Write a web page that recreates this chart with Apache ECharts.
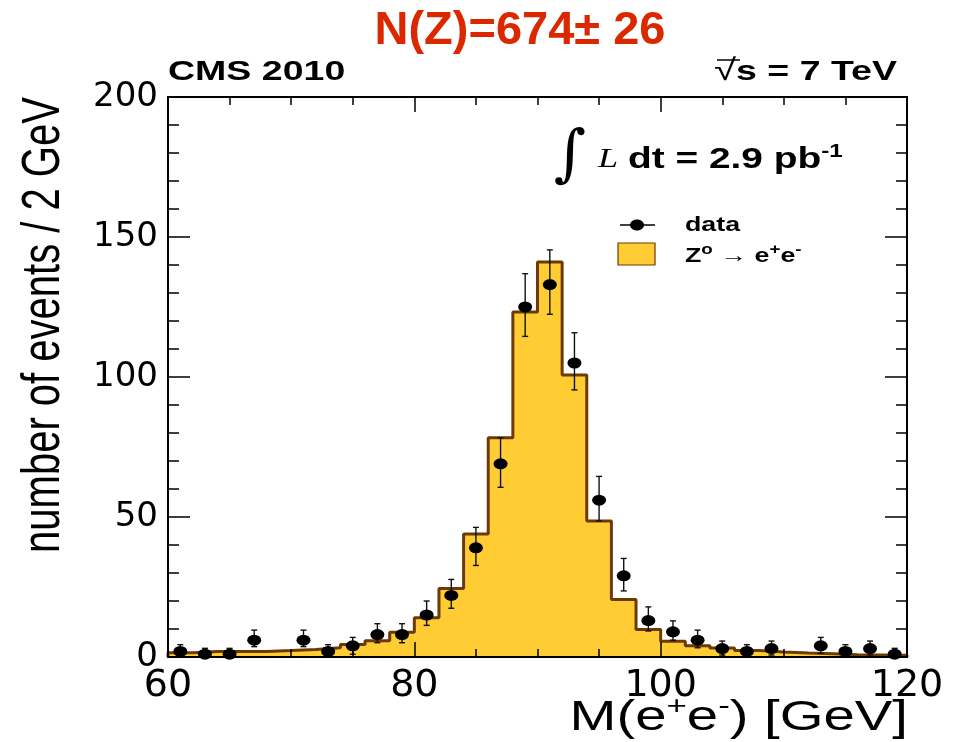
<!DOCTYPE html>
<html><head><meta charset="utf-8">
<script src="https://cdn.jsdelivr.net/npm/echarts@6/dist/echarts.min.js"></script>
<style>html,body{margin:0;padding:0;background:#fff}#c{width:954px;height:742px}</style>
</head><body><div id="c"></div>
<script>
// bin lower edges (GeV), 2 GeV bins
const binLow = [60,62,64,66,68,70,72,74,76,78,80,82,84,86,88,90,92,94,96,98,100,102,104,106,108,110,112,114,116,118];
const binWidth = 2;
// Z -> ee simulation histogram (events / 2 GeV)
const mcZee = [1.5,2.0,2.0,2.0,2.3,2.7,3.3,4.5,5.8,8.8,14.0,24.5,43.9,78.3,123.2,141.1,100.7,48.6,20.5,9.8,5.6,4.0,3.2,2.3,1.8,1.4,1.2,0.8,0.7,0.6];
// observed data counts
const dataCounts = [2,1,1,6,0,6,2,4,8,8,15,22,39,69,125,133,105,56,29,13,9,6,3,2,3,0,4,2,3,1];
// error bar ends
const errHigh = [4.4,3.1,3.1,9.6,0,9.6,4.4,7.0,11.9,11.9,20.0,27.7,46.3,78.3,136.9,145.4,115.8,64.5,35.2,17.9,12.9,9.6,5.7,4.4,5.7,0,7.0,4.4,5.7,3.1];
const errLow  = [0,0,0,3.7,0,3.7,0.3,1.0,5.1,5.1,11.3,17.4,32.7,60.6,114.5,122.4,95.4,48.6,23.6,9.3,6.0,3.3,0.7,0,0.7,0,1.3,0,0.7,0];
const xTickLabels = ['60','80','100','120'];
const yTickLabels = ['0','50','100','150','200'];

const chart = echarts.init(document.getElementById('c'));

const histLine = [[binLow[0], 0]];
binLow.forEach((x, i) => histLine.push([x, mcZee[i]]));
const lastEdge = binLow[binLow.length - 1] + binWidth;
histLine.push([lastEdge, mcZee[mcZee.length - 1]]);
histLine.push([lastEdge, 0]);

const pts = [], errs = [];
binLow.forEach((x, i) => {
  if (dataCounts[i] > 0) {
    pts.push([x + binWidth / 2, dataCounts[i]]);
    errs.push([x + binWidth / 2, errLow[i], errHigh[i]]);
  }
});

const BROWN = '#6b3a05', FILL = '#ffcc33';
const SX = 1.34;
const HEL = '"Liberation Sans", Arial, Helvetica, sans-serif';

function xAx(pos, show) {
  return {
    type: 'value', position: pos, min: 60, max: 120, interval: 20, z: 10,
    axisLine: { show: true, onZero: false, lineStyle: { color: '#000', width: 2 } },
    axisTick: { show: true, inside: true, length: 15, lineStyle: { color: '#000', width: 1.5 } },
    minorTick: { show: true, splitNumber: 4, length: 8, lineStyle: { color: '#000', width: 1.5 } },
    splitLine: { show: false },
    axisLabel: { show: show, margin: 10, color: '#000', fontFamily: '"DejaVu Sans"', fontSize: 38,
      formatter: v => xTickLabels[xTickLabels.indexOf(String(v))] || '' }
  };
}
function yAx(pos, show) {
  return {
    type: 'value', position: pos, min: 0, max: 200, interval: 50, z: 10,
    axisLine: { show: true, onZero: false, lineStyle: { color: '#000', width: 2 } },
    axisTick: { show: true, inside: true, length: 22, lineStyle: { color: '#000', width: 1.5 } },
    minorTick: { show: true, splitNumber: 5, length: 11, lineStyle: { color: '#000', width: 1.5 } },
    splitLine: { show: false },
    axisLabel: { show: show, margin: 10, color: '#000', fontFamily: '"DejaVu Sans"', fontSize: 34,
      formatter: v => yTickLabels[yTickLabels.indexOf(String(v))] || '' }
  };
}

const option = {
  animation: false,
  backgroundColor: '#fff',
  grid: { left: 168, right: 47, top: 97, bottom: 85 },
  xAxis: [xAx('bottom', true), xAx('top', false)],
  yAxis: [yAx('left', true), yAx('right', false)],
  series: [
    {
      type: 'line', name: 'Z0 -> ee', data: histLine, step: 'end', symbol: 'none',
      lineStyle: { color: BROWN, width: 3 },
      areaStyle: { color: FILL, opacity: 1 }, z: 2
    },
    {
      type: 'custom', name: 'err', data: errs, z: 4,
      encode: { x: 0, y: [1, 2] },
      renderItem: (params, api) => {
        const x = api.value(0);
        const p1 = api.coord([x, api.value(1)]);
        const p2 = api.coord([x, api.value(2)]);
        const st = { stroke: '#111', lineWidth: 1.4 };
        return { type: 'group', children: [
          { type: 'line', shape: { x1: p1[0], y1: p1[1], x2: p2[0], y2: p2[1] }, style: st },
          { type: 'line', shape: { x1: p2[0] - 3, y1: p2[1], x2: p2[0] + 3, y2: p2[1] }, style: st },
          { type: 'line', shape: { x1: p1[0] - 3, y1: p1[1], x2: p1[0] + 3, y2: p1[1] }, style: st }
        ]};
      }
    },
    {
      type: 'scatter', name: 'data', data: pts, symbol: 'circle', symbolSize: [14, 11],
      itemStyle: { color: '#000', opacity: 1 }, z: 5
    }
  ],
  graphic: [
    { type: 'text', x: 520, y: 31, style: { text: 'N(Z)=674\u00b1 26', fill: '#dc2800',
      font: 'bold 47px ' + HEL, align: 'center', verticalAlign: 'middle' } },
    { type: 'text', x: 168, y: 72, scaleX: SX, style: { text: 'CMS 2010', fill: '#000',
      font: 'bold 28px ' + HEL, align: 'left', verticalAlign: 'middle' } },
    { type: 'text', x: 897, y: 72, scaleX: SX, style: { text: '{r|\u221a}{b|s = 7 TeV}',
      align: 'right', verticalAlign: 'middle',
      rich: { r: { font: '30px ' + HEL, fill: '#000' }, b: { font: 'bold 28px ' + HEL, fill: '#000' } } } },
    { type: 'line', shape: { x1: 717, y1: 60, x2: 740, y2: 60 }, style: { stroke: '#000', lineWidth: 1.5 } },
    // integral luminosity
    { type: 'text', x: 570, y: 158, style: { text: '\u222b', fill: '#000', font: '62px "DejaVu Serif"',
      align: 'center', verticalAlign: 'middle' } },
    { type: 'text', x: 598, y: 160, scaleX: SX, style: { text: 'L', fill: '#000', font: 'italic 27px "Liberation Serif"',
      align: 'left', verticalAlign: 'middle' } },
    { type: 'text', x: 628, y: 160, scaleX: SX, style: { text: '{b|dt = 2.9 pb}{s|-1}',
      align: 'left', verticalAlign: 'middle',
      rich: { b: { font: 'bold 29px ' + HEL, fill: '#000', lineHeight: 34, verticalAlign: 'middle' },
              s: { font: 'bold 18px ' + HEL, fill: '#000', lineHeight: 18, verticalAlign: 'top' } } } },
    // legend
    { type: 'line', shape: { x1: 620, y1: 225, x2: 655, y2: 225 }, style: { stroke: '#000', lineWidth: 1.5 } },
    { type: 'ellipse', shape: { cx: 637, cy: 225, rx: 7, ry: 5.5 }, style: { fill: '#000' } },
    { type: 'text', x: 685, y: 225, scaleX: SX, style: { text: 'data', fill: '#000', font: 'bold 20px ' + HEL,
      align: 'left', verticalAlign: 'middle' } },
    { type: 'rect', shape: { x: 618, y: 243, width: 37, height: 22 }, style: { fill: FILL, stroke: BROWN, lineWidth: 1.2 } },
    { type: 'text', x: 685, y: 256, scaleX: SX, style: { text: '{b|Z}{s|o}{r| \u2192 }{b|e}{s|+}{b|e}{s|-}',
      align: 'left', verticalAlign: 'middle',
      rich: { b: { font: 'bold 20px ' + HEL, fill: '#000', lineHeight: 26, verticalAlign: 'middle' },
              r: { font: '20px ' + HEL, fill: '#000', lineHeight: 26, verticalAlign: 'middle' },
              s: { font: 'bold 14px ' + HEL, fill: '#000', lineHeight: 14, verticalAlign: 'top' } } } },
    // axis titles
    { type: 'text', x: 908, y: 718, scaleX: SX, style: { text: '{n|M(e}{s|+}{n|e}{s|-}{n|) [GeV]}',
      align: 'right', verticalAlign: 'middle',
      rich: { n: { font: '42px ' + HEL, fill: '#000', lineHeight: 48, verticalAlign: 'middle' },
              s: { font: '26px ' + HEL, fill: '#000', lineHeight: 26, verticalAlign: 'top' } } } },
    { type: 'text', x: 44, y: 325, rotation: Math.PI / 2, scaleY: SX, style: { text: 'number of events / 2 GeV',
      fill: '#000', font: '40px ' + HEL, align: 'center', verticalAlign: 'middle' } }
  ]
};
chart.setOption(option);
</script></body></html>
